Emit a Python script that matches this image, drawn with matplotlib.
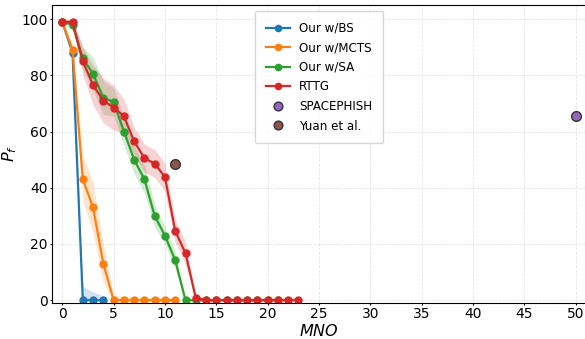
import matplotlib.pyplot as plt
import numpy as np

# data
bs_x = [0, 1, 2, 3, 4]
bs_y = [99, 88, 0, 0, 0]
bs_std = [0.5, 2, 5, 3, 1.5]

mcts_x = list(range(0, 12))
mcts_y = [99, 89, 43, 33, 13, 0, 0, 0, 0, 0, 0, 0]
mcts_std = [0.5, 2, 8, 9, 7, 1.5, 1.5, 1.2, 1, 1, 1, 1]

sa_x = list(range(0, 22))
sa_y = [99, 98, 86, 80.5, 72, 70.5, 60, 50, 43, 30, 23, 14.2] + [0] * 10
sa_std = [0.5, 2, 4, 6, 6, 5, 5, 5, 5, 4, 3, 3] + [0.3] * 10

rttg_x = list(range(0, 24))
rttg_y = [99, 99, 85, 76.5, 71, 68.5, 65.5, 56.5, 50.5, 48.6, 43.8, 24.6, 16.7, 0.8] + [0] * 10
rttg_std = [0.5, 1, 5, 7, 8, 8, 6, 5, 5, 5, 5, 4, 4, 1] + [0.8] * 10

spacephish = (50, 65.5)
yuan = (11, 48.6)

fig = plt.figure(figsize=(5.85, 3.39), dpi=100)
ax = fig.add_axes([52 / 585, 36 / 339, 534 / 585, 298 / 339])

series = [
    (bs_x, bs_y, bs_std, 'tab:blue', 'Our w/BS'),
    (mcts_x, mcts_y, mcts_std, 'tab:orange', 'Our w/MCTS'),
    (sa_x, sa_y, sa_std, 'tab:green', 'Our w/SA'),
    (rttg_x, rttg_y, rttg_std, 'tab:red', 'RTTG'),
]
for x, y, s, c, lab in series:
    y = np.array(y, dtype=float)
    s = np.array(s, dtype=float)
    ax.fill_between(x, np.clip(y - s, 0, None), y + s, color=c, alpha=0.2, lw=0)
    ax.plot(x, y, '-o', color=c, lw=1.6, ms=5, label=lab)

ax.plot(*spacephish, 'o', color='tab:purple', mec='#333333', ms=7, lw=0, label='SPACEPHISH')
ax.plot(*yuan, 'o', color='tab:brown', mec='#333333', ms=7, lw=0, label='Yuan et al.')

ax.set_xlim(-1, 51)
ax.set_ylim(-1, 105)
ax.set_xticks(range(0, 51, 5))
ax.set_yticks(range(0, 101, 20))
ax.tick_params(labelsize=10, length=1.5, pad=1.5)
ax.grid(True, ls='--', lw=0.6, alpha=0.3)
ax.spines['right'].set_visible(False)
ax.set_xlabel('$MNO$', fontsize=11.5, labelpad=1)
ax.set_ylabel('$P_f$', fontsize=11.5, labelpad=2)
ax.legend(loc='upper center', bbox_to_anchor=(0.5, 1.0), fontsize=8.6,
          borderpad=0.9, labelspacing=0.55, markerscale=0.9)

fig.savefig('out.png', dpi=100)
